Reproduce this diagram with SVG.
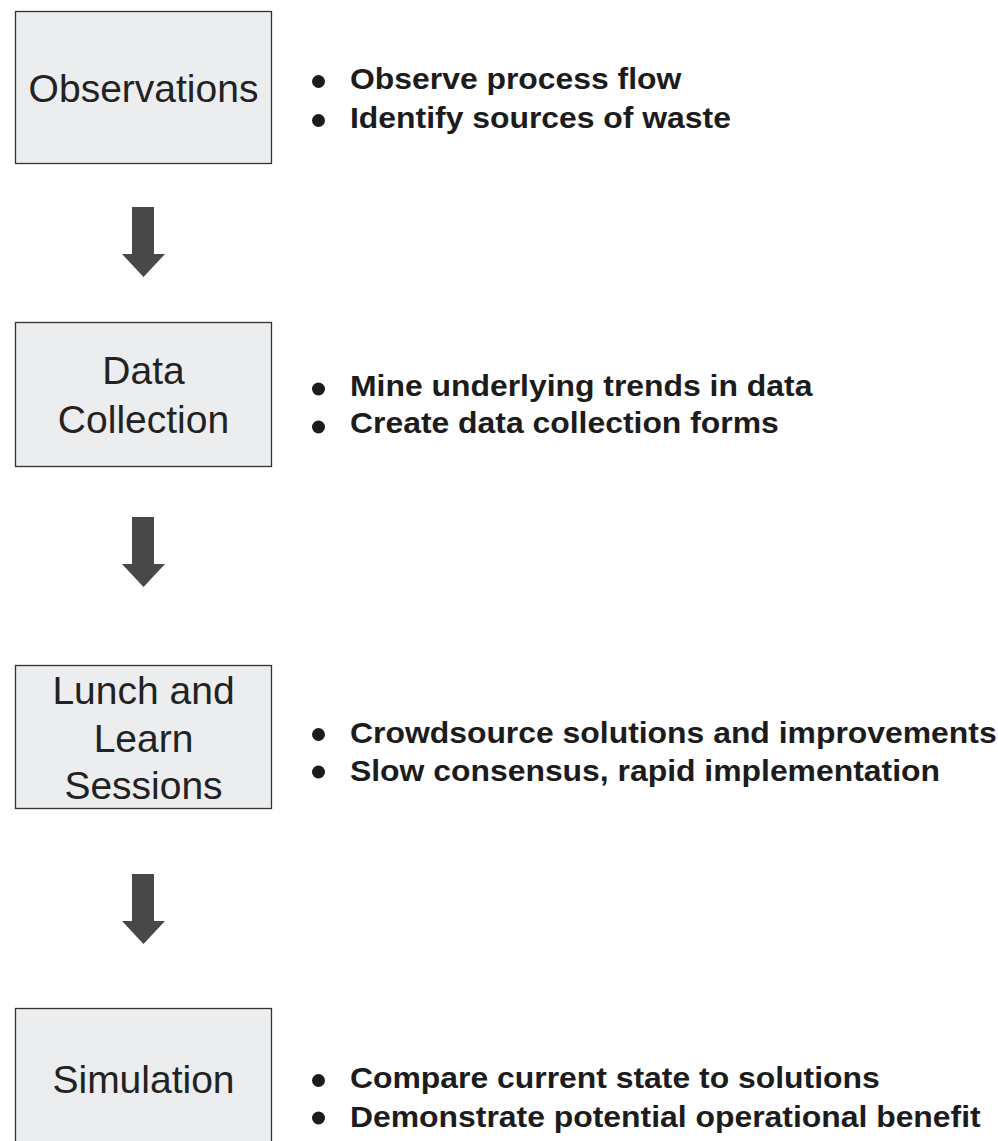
<svg xmlns="http://www.w3.org/2000/svg" width="998" height="1141" viewBox="0 0 998 1141">
<style>
.box{fill:#ecedef;stroke:#333;stroke-width:1.3}
.title{font-family:"Liberation Sans",Arial,sans-serif;font-size:39px;fill:#222;text-anchor:middle}
.bul{font-family:"Liberation Sans",Arial,sans-serif;font-size:29px;font-weight:bold;fill:#1c1c1c}
.dot{fill:#1c1c1c}
.arrow{fill:#484848}
</style>
<rect width="998" height="1141" fill="#fff"/>
<g id="connectors">
<path class="arrow" d="M132,207 H154 V254 H165 L143.5,277 L122,254 H132 Z"/>
<path class="arrow" d="M132,517 H154 V564 H165 L143.5,587 L122,564 H132 Z"/>
<path class="arrow" d="M132,874 H154 V921 H165 L143.5,944 L122,921 H132 Z"/>
</g>
<g id="node-observations">
<rect class="box" x="15.5" y="11.5" width="256" height="152"/>
<text class="title" x="143.5" y="102">Observations</text>
<circle class="dot" cx="318.5" cy="81.5" r="6.5"/>
<circle class="dot" cx="318.5" cy="120.5" r="6.5"/>
<g transform="translate(350,0) scale(1.1,1)">
<text class="bul" x="0" y="89">Observe process flow</text>
<text class="bul" x="0" y="128">Identify sources of waste</text>
</g>
</g>
<g id="node-data-collection">
<rect class="box" x="15.5" y="322.5" width="256" height="144"/>
<text class="title" x="143.5" y="384">Data</text>
<text class="title" x="143.5" y="433">Collection</text>
<circle class="dot" cx="318.5" cy="389" r="6.5"/>
<circle class="dot" cx="318.5" cy="427" r="6.5"/>
<g transform="translate(350,0) scale(1.1,1)">
<text class="bul" x="0" y="396">Mine underlying trends in data</text>
<text class="bul" x="0" y="433">Create data collection forms</text>
</g>
</g>
<g id="node-lunch-and-learn">
<rect class="box" x="15.5" y="665.5" width="256" height="143"/>
<text class="title" x="143.5" y="704">Lunch and</text>
<text class="title" x="143.5" y="752">Learn</text>
<text class="title" x="143.5" y="799">Sessions</text>
<circle class="dot" cx="318.5" cy="734.5" r="6.5"/>
<circle class="dot" cx="318.5" cy="772" r="6.5"/>
<g transform="translate(350,0) scale(1.1,1)">
<text class="bul" x="0" y="743">Crowdsource solutions and improvements</text>
<text class="bul" x="0" y="781">Slow consensus, rapid implementation</text>
</g>
</g>
<g id="node-simulation">
<rect class="box" x="15.5" y="1008.5" width="256" height="150"/>
<text class="title" x="143.5" y="1093">Simulation</text>
<circle class="dot" cx="318.5" cy="1080.5" r="6.5"/>
<circle class="dot" cx="318.5" cy="1118" r="6.5"/>
<g transform="translate(350,0) scale(1.1,1)">
<text class="bul" x="0" y="1088">Compare current state to solutions</text>
<text class="bul" x="0" y="1127">Demonstrate potential operational benefit</text>
</g>
</g>
</svg>
